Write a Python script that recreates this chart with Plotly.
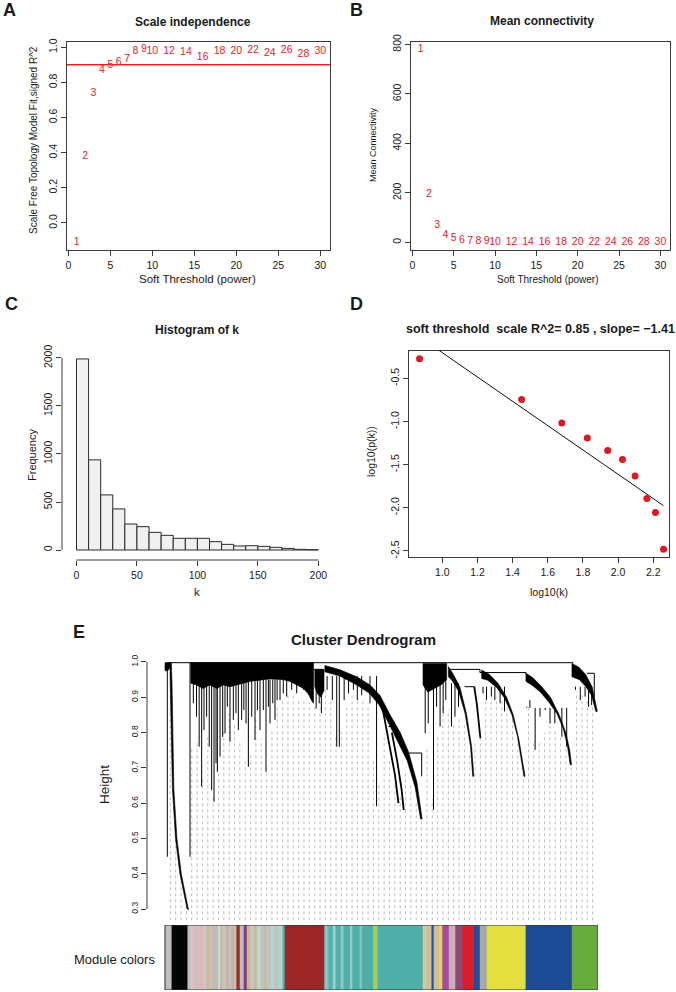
import numpy as np
import plotly.graph_objects as go

W, H = 676, 992
FONT = "Liberation Sans, Arial, sans-serif"
RED = "#e2242b"
AX = "#3a3a3a"
TXT = "#1a1a1a"

# ---------------- Panel A / B : soft-threshold scan ----------------
powers = [1, 2, 3, 4, 5, 6, 7, 8, 9, 10, 12, 14, 16, 18, 20, 22, 24, 26, 28, 30]
signed_r2 = [-0.11, 0.38, 0.74, 0.87, 0.895, 0.914, 0.933, 0.975, 0.987, 0.975,
             0.977, 0.971, 0.943, 0.977, 0.977, 0.985, 0.968, 0.985, 0.962, 0.975]
r2_cut = 0.90
mean_k = [779, 195, 68, 30, 16, 8, 5, 3, 2, 1.5, 1, 0.7, 0.5, 0.4, 0.3, 0.3, 0.2, 0.2, 0.2, 0.2]
a_xticks = [0, 5, 10, 15, 20, 25, 30]
a_yticks = [0.0, 0.2, 0.4, 0.6, 0.8, 1.0]
b_yticks = [0, 200, 400, 600, 800]

# ---------------- Panel C : histogram of k ----------------
k_breaks = list(range(0, 201, 10))
k_freq = [1990, 939, 574, 428, 271, 243, 184, 153, 122, 122,
          122, 87, 59, 42, 45, 38, 28, 17, 7, 3]
c_xticks = [0, 50, 100, 150, 200]
c_yticks = [0, 500, 1000, 1500, 2000]

# ---------------- Panel D : scale-free fit ----------------
log10_k = [0.870, 1.451, 1.680, 1.825, 1.941, 2.025, 2.097, 2.164, 2.213, 2.259]
log10_pk = [-0.269, -0.742, -1.015, -1.188, -1.335, -1.438, -1.631, -1.892, -2.054, -2.481]
fit_r2 = 0.85
fit_slope = -1.41
fit_intercept = 1.21
d_xticks = [1.0, 1.2, 1.4, 1.6, 1.8, 2.0, 2.2]
d_yticks = [-2.5, -2.0, -1.5, -1.0, -0.5]

# ---------------- Panel E : cluster dendrogram (x = leaf order, h = height) ----------------
e_yticks = [0.3, 0.4, 0.5, 0.6, 0.7, 0.8, 0.9, 1.0]

blob_L0_x = [0.0, 1.2, 1.2, 0.6, 0.0]
blob_L0_h = [0.998, 0.998, 0.985, 0.975, 0.975]
blob_black_x = [1.1, 1.45, 1.62, 1.77, 2.02, 2.72, 3.72, 5.35, 5.05, 3.4, 2.4, 1.7, 1.45, 1.3]
blob_black_h = [0.998, 0.998, 0.93, 0.83, 0.64, 0.50, 0.40, 0.298, 0.30, 0.40, 0.50, 0.64, 0.83, 0.93]
blob_A_x = [5.9, 33.9, 33.9, 33.5, 32.7, 31.6, 30.1, 28.5, 27.0, 25.5, 24.0, 22.5, 21.0,
            19.4, 17.9, 16.4, 14.8, 13.3, 11.8, 10.2, 8.7, 7.2, 5.9]
blob_A_h = [0.998, 0.998, 0.883, 0.89, 0.91, 0.925, 0.935, 0.945, 0.95, 0.952, 0.952, 0.95, 0.948,
            0.945, 0.94, 0.935, 0.93, 0.935, 0.925, 0.935, 0.925, 0.935, 0.94]
blob_A2_x = [34.2, 36.3, 36.3, 35.6, 34.8, 34.2]
blob_A2_h = [0.979, 0.979, 0.92, 0.90, 0.91, 0.93]
blob_T_x = [36.5, 39.95, 43.76, 46.8, 49.1, 51.4, 53.7, 55.6, 57.5, 58.7,
            58.35, 57.1, 55.3, 53.3, 51.1, 48.9, 46.6, 43.6, 39.9, 36.5]
blob_T_h = [0.99, 0.978, 0.958, 0.935, 0.905, 0.85, 0.80, 0.745, 0.66, 0.555,
            0.555, 0.645, 0.72, 0.772, 0.825, 0.878, 0.912, 0.936, 0.96, 0.972]
blob_B1_x = [58.9, 64.3, 64.3, 63.0, 61.5, 60.0, 58.9]
blob_B1_h = [0.996, 0.996, 0.95, 0.935, 0.925, 0.915, 0.935]
blob_B2_x = [64.7, 65.8, 67.3, 68.8, 70.0, 70.5, 70.25, 69.75, 68.5, 67.0, 65.5, 64.7]
blob_B2_h = [0.987, 0.965, 0.93, 0.855, 0.76, 0.676, 0.676, 0.76, 0.855, 0.918, 0.948, 0.958]
blob_B3_x = [72.3, 74.0, 76.0, 78.0, 79.5, 80.8, 81.6, 82.2, 81.95, 81.3, 80.45, 79.2, 77.5, 75.7, 73.7, 72.3]
blob_B3_h = [0.977, 0.965, 0.94, 0.90, 0.85, 0.78, 0.72, 0.676, 0.676, 0.73, 0.79, 0.85, 0.898, 0.928, 0.948, 0.953]
blob_B4_x = [82.4, 84.0, 86.0, 88.0, 90.0, 91.5, 92.4, 92.8, 92.5, 91.9, 90.95, 89.5, 87.7, 85.7, 83.7, 82.4]
blob_B4_h = [0.968, 0.955, 0.93, 0.90, 0.85, 0.80, 0.75, 0.709, 0.709, 0.76, 0.81, 0.853, 0.885, 0.915, 0.935, 0.945]
blob_B5_x = [92.9, 94.5, 96.0, 97.5, 98.7, 98.35, 97.4, 96.1, 94.6, 92.9]
blob_B5_h = [0.996, 0.985, 0.965, 0.93, 0.86, 0.86, 0.905, 0.93, 0.95, 0.958]

# single long branches (x, bottom height) hanging from a group top
stemL_x = [0.53, 5.71]
stemL_bot = [0.448, 0.448]
stemL_top = 0.998
stemA_x = [6.47, 7.2, 7.8, 8.37, 8.9, 9.5, 10.1, 10.65, 11.19, 11.65, 11.95, 12.56, 13.17, 13.7,
           14.23, 14.84, 15.6, 16.2, 16.74, 17.5, 18.0, 18.5, 19.03, 19.8, 20.55, 21.1, 21.69,
           22.45, 23.06, 23.6, 23.97, 24.6, 25.11, 25.6, 26.26, 27.0, 27.78, 28.92, 30.06, 31.58, 32.7]
stemA_bot = [0.883, 0.845, 0.760, 0.647, 0.807, 0.845, 0.760, 0.637, 0.604, 0.713, 0.689, 0.732,
             0.788, 0.798, 0.873, 0.774, 0.836, 0.855, 0.807, 0.836, 0.864, 0.826, 0.703, 0.845,
             0.779, 0.864, 0.807, 0.864, 0.689, 0.873, 0.826, 0.883, 0.836, 0.892, 0.892, 0.911,
             0.902, 0.921, 0.911, 0.921, 0.911]
stemA_top = 0.95
stemA2_x = [34.5, 35.2, 35.7]
stemA2_bot = [0.868, 0.883, 0.855]
stemA2_top = 0.93
stemT_x = [37.0, 38.2, 39.2, 39.8, 40.9, 41.9, 43.0, 43.9, 44.9, 46.8, 48.3]
stemT_bot = [0.921, 0.892, 0.760, 0.760, 0.892, 0.911, 0.921, 0.892, 0.906, 0.883, 0.591]
stemT_top = 0.96
stemB1_x = [59.4, 60.1, 61.3, 62.0, 62.8, 63.5, 64.1]
stemB1_bot = [0.798, 0.826, 0.581, 0.873, 0.817, 0.855, 0.892]
stemB1_top = 0.95
stemB2_x = [65.4, 66.2, 67.0]
stemB2_bot = [0.817, 0.845, 0.873]
stemB2_top = 0.94
stemB3_x = [72.6, 73.4, 74.5, 75.3, 76.5, 77.5]
stemB3_bot = [0.911, 0.892, 0.902, 0.892, 0.883, 0.86]
stemB3_top = 0.93
stemB4_x = [82.6, 83.3, 84.5, 85.6, 86.8, 87.9, 89.0, 90.6, 91.7]
stemB4_bot = [0.873, 0.892, 0.751, 0.845, 0.864, 0.826, 0.826, 0.788, 0.760]
stemB4_top = 0.87
stemB5_x = [93.7, 94.8, 95.9, 96.7, 97.4]
stemB5_bot = [0.921, 0.892, 0.902, 0.873, 0.878]
stemB5_top = 0.93

# thinner sub-branches (polylines)
branch_T1_x = [49.5, 51.0, 52.5, 53.3]
branch_T1_h = [0.88, 0.78, 0.68, 0.60]
branch_T2_x = [51.8, 53.0, 54.0, 54.5]
branch_T2_h = [0.80, 0.72, 0.64, 0.58]
branch_B2_x = [70.6, 71.2, 71.7, 72.0]
branch_B2_h = [0.93, 0.88, 0.82, 0.784]

# merge lines: horizontal segments (x0, x1, h) and vertical drops
merge_x0 = [0.5, 30.1, 65.1, 71.9, 96.3, 51.0, 55.6, 68.4]
merge_x1 = [93.2, 36.1, 71.9, 82.4, 98.0, 52.5, 58.6, 70.6]
merge_h = [0.998, 0.979, 0.979, 0.970, 0.968, 0.817, 0.742, 0.93]
drop_x = [71.9, 82.4, 58.6, 98.0]
drop_top = [0.979, 0.970, 0.742, 0.968]
drop_bot = [0.970, 0.966, 0.676, 0.90]

# leaf-height profile used to end the guide lines
leaf_x = [0.0, 0.5, 0.6, 1.2, 1.5, 1.9, 2.6, 3.6, 5.2, 5.5, 5.9, 6.2, 8.4, 9.5, 10.65, 11.2, 12.6,
          14.0, 15.6, 19.0, 21.0, 23.1, 25.0, 28.0, 33.9, 35.0, 36.3, 37.5, 39.5, 42.0, 46.8, 48.3,
          50.0, 53.3, 55.0, 58.6, 59.4, 61.3, 62.5, 64.3, 65.4, 68.0, 70.4, 71.2, 72.0, 73.0, 76.0,
          79.5, 82.2, 83.0, 84.5, 88.0, 91.7, 92.8, 93.5, 96.0, 98.85]
leaf_h = [0.975, 0.45, 0.45, 0.975, 0.93, 0.64, 0.50, 0.40, 0.30, 0.45, 0.45, 0.90, 0.65, 0.84,
          0.64, 0.60, 0.73, 0.87, 0.84, 0.70, 0.86, 0.69, 0.87, 0.91, 0.88, 0.88, 0.92, 0.92, 0.76,
          0.91, 0.88, 0.59, 0.80, 0.60, 0.70, 0.557, 0.80, 0.58, 0.85, 0.89, 0.82, 0.85, 0.676, 0.88,
          0.784, 0.90, 0.90, 0.85, 0.676, 0.88, 0.75, 0.83, 0.76, 0.709, 0.92, 0.90, 0.86]
guide_count = 80

# module colour strip: boundaries (leaf order) and colours
module_bounds = [0.0, 1.58, 5.22, 6.0, 6.6, 7.2, 7.88, 8.87, 9.6, 10.1, 10.9, 11.3, 12.2, 12.7, 13.2,
                 14.1, 14.5, 15.4, 15.8, 16.36, 17.15, 18.04, 18.73, 19.51, 20.5, 21.0, 21.9, 22.8,
                 23.2, 24.2, 25.0, 25.9, 26.91, 27.40, 36.47, 37.3, 38.4, 39.0, 40.2, 40.8, 42.3,
                 42.8, 44.5, 45.0, 47.6, 48.59, 58.94, 59.7, 60.2, 60.91, 61.40, 62.0, 62.7, 63.37,
                 64.85, 65.5, 66.33, 68.01, 70.47, 71.95, 73.53, 82.4, 92.94, 98.85]
module_hex = ["#bebebe", "#050505", "#c2c2c0", "#ecbcc2", "#c4c4c2", "#d6bcbe", "#e6b4bd",
              "#c8c8c0", "#d2b48c", "#c0c0bc", "#dcac96", "#bcbcb8", "#c0dcd8", "#cdb493",
              "#c4c4c0", "#d6a490", "#bfbfbb", "#c8b090", "#c0c0c0", "#a0302a", "#bdbdbd",
              "#7a3d8e", "#d4b483", "#c6c6c0", "#cdb38a", "#b8d8d4", "#c2c2be", "#d0b48c",
              "#bfc4c0", "#b4d6d2", "#c2c2c2", "#aed2cf", "#48b0a8", "#9e2528", "#86c8c2",
              "#55b3ac", "#9ccfc9", "#52b1aa", "#8ec9c3", "#50b0a9", "#98cdc7", "#4fb0a9",
              "#86c6c0", "#4eafa8", "#a7cf4f", "#4eafa9", "#d8c98c", "#bdbdbd", "#d6c27e",
              "#284f9e", "#bdbdbd", "#d4c27a", "#e2d64a", "#a54aa0", "#c0b0b8", "#d8a8b4",
              "#8a4a78", "#e01b24", "#1e4f9c", "#a8a8a8", "#e3df3d", "#1b4a96", "#67ac3d"]


# ---------------- helpers ----------------
def dx(a, b):
    return [a / W, b / W]


def dy(top, bottom):
    return [1 - bottom / H, 1 - top / H]


def ax(domain, rng, **kw):
    d = dict(domain=domain, range=rng, showgrid=False, zeroline=False, ticks="outside",
             ticklen=5, tickwidth=1, tickcolor=AX, linecolor=AX, linewidth=1, showline=True,
             mirror=True, tickfont=dict(family=FONT, size=10.5, color=TXT), automargin=False,
             fixedrange=True)
    d.update(kw)
    return d


fig = go.Figure()

# A
fig.add_trace(go.Scatter(x=powers, y=signed_r2, mode="text", text=[str(p) for p in powers],
                         textfont=dict(color=RED, size=10.5, family=FONT), cliponaxis=False,
                         xaxis="x", yaxis="y", hoverinfo="skip"))
# B
fig.add_trace(go.Scatter(x=powers, y=mean_k, mode="text", text=[str(p) for p in powers],
                         textfont=dict(color=RED, size=10.5, family=FONT), cliponaxis=False,
                         xaxis="x2", yaxis="y2", hoverinfo="skip"))
# C
mids = [(a + b) / 2 for a, b in zip(k_breaks[:-1], k_breaks[1:])]
widths = [b - a for a, b in zip(k_breaks[:-1], k_breaks[1:])]
fig.add_trace(go.Bar(x=mids, y=k_freq, width=widths, marker=dict(color="#f0f0f0",
                     line=dict(color="#2a2a2a", width=1)), xaxis="x3", yaxis="y3", hoverinfo="skip"))
# D
fit_x = [min(log10_k), max(log10_k)]
fit_y = [fit_intercept + fit_slope * v for v in fit_x]
fig.add_trace(go.Scatter(x=fit_x, y=fit_y, mode="lines", line=dict(color="#111", width=1),
                         xaxis="x4", yaxis="y4", hoverinfo="skip"))
fig.add_trace(go.Scatter(x=log10_k, y=log10_pk, mode="markers",
                         marker=dict(color="#dd1a22", size=7, line=dict(width=0)),
                         xaxis="x4", yaxis="y4", hoverinfo="skip", cliponaxis=False))

# E : guides
gx = np.linspace(module_bounds[0], module_bounds[-1], guide_count + 2)[1:-1]
gtop = np.interp(gx, leaf_x, leaf_h)
g_xs, g_ys = [], []
for xv, tv in zip(gx, gtop):
    g_xs += [xv, xv, None]
    g_ys += [0.2, tv, None]
fig.add_trace(go.Scatter(x=g_xs, y=g_ys, mode="lines",
                         line=dict(color="#bcbcbc", width=1, dash="dot"),
                         xaxis="x5", yaxis="y5", hoverinfo="skip"))

# E : stems
s_xs, s_ys = [], []
for xs, bots, top in [(stemL_x, stemL_bot, stemL_top), (stemA_x, stemA_bot, stemA_top),
                      (stemA2_x, stemA2_bot, stemA2_top), (stemT_x, stemT_bot, stemT_top),
                      (stemB1_x, stemB1_bot, stemB1_top), (stemB2_x, stemB2_bot, stemB2_top),
                      (stemB3_x, stemB3_bot, stemB3_top), (stemB4_x, stemB4_bot, stemB4_top),
                      (stemB5_x, stemB5_bot, stemB5_top)]:
    for xv, bv in zip(xs, bots):
        s_xs += [xv, xv, None]
        s_ys += [top, bv, None]
for xv, t, b in zip(drop_x, drop_top, drop_bot):
    s_xs += [xv, xv, None]
    s_ys += [t, b, None]
for a, b, hh in zip(merge_x0, merge_x1, merge_h):
    s_xs += [a, b, None]
    s_ys += [hh, hh, None]
fig.add_trace(go.Scatter(x=s_xs, y=s_ys, mode="lines", line=dict(color="#000", width=1),
                         xaxis="x5", yaxis="y5", hoverinfo="skip"))

for bx, bh in [(branch_T1_x, branch_T1_h), (branch_T2_x, branch_T2_h), (branch_B2_x, branch_B2_h)]:
    fig.add_trace(go.Scatter(x=bx, y=bh, mode="lines", line=dict(color="#000", width=1.8),
                             xaxis="x5", yaxis="y5", hoverinfo="skip"))

for px_, ph_ in [(blob_L0_x, blob_L0_h), (blob_black_x, blob_black_h), (blob_A_x, blob_A_h),
                 (blob_A2_x, blob_A2_h), (blob_T_x, blob_T_h), (blob_B1_x, blob_B1_h),
                 (blob_B2_x, blob_B2_h), (blob_B3_x, blob_B3_h), (blob_B4_x, blob_B4_h),
                 (blob_B5_x, blob_B5_h)]:
    fig.add_trace(go.Scatter(x=px_ + [px_[0]], y=ph_ + [ph_[0]], mode="lines", fill="toself",
                             fillcolor="#000", line=dict(color="#000", width=0.6),
                             xaxis="x5", yaxis="y5", hoverinfo="skip"))

# module colour strip
m_mid = [(a + b) / 2 for a, b in zip(module_bounds[:-1], module_bounds[1:])]
m_w = [b - a for a, b in zip(module_bounds[:-1], module_bounds[1:])]
fig.add_trace(go.Bar(x=m_mid, y=[1] * len(m_mid), width=m_w, base=0,
                     marker=dict(color=module_hex, line=dict(color=module_hex, width=0.6)),
                     xaxis="x6", yaxis="y6", hoverinfo="skip"))

E_RANGE = [-4.11, module_bounds[-1]]
fig.update_layout(
    width=W, height=H, margin=dict(l=0, r=0, t=0, b=0), template="none",
    paper_bgcolor="white", plot_bgcolor="white", showlegend=False,
    font=dict(family=FONT, color=TXT), bargap=0,
    xaxis=ax(dx(67, 330), [-0.16, 31.16], anchor="y", tickvals=a_xticks),
    yaxis=ax(dy(42, 250), [-0.154, 1.03], anchor="x", tickvals=a_yticks,
             ticktext=[f"{v:.1f}" for v in a_yticks], tickangle=-90),
    xaxis2=ax(dx(411, 670), [-0.16, 31.16], anchor="y2", tickvals=a_xticks),
    yaxis2=ax(dy(42, 250), [-31, 810], anchor="x2", tickvals=b_yticks, tickangle=-90),
    xaxis3=ax(dx(62, 328), [-12, 208], anchor="y3", tickvals=c_xticks, showline=False, mirror=False),
    yaxis3=ax(dy(350, 560), [-104, 2083], anchor="x3", tickvals=c_yticks, tickangle=-90,
              showline=False, mirror=False),
    xaxis4=ax(dx(409, 669), [0.81, 2.29], anchor="y4", tickvals=d_xticks,
              ticktext=[f"{v:.1f}" for v in d_xticks]),
    yaxis4=ax(dy(351, 557), [-2.57, -0.18], anchor="x4", tickvals=d_yticks,
              ticktext=[f"{v:.1f}" for v in d_yticks], tickangle=-90),
    xaxis5=ax(dx(147, 598), E_RANGE, anchor="y5", visible=False),
    yaxis5=ax(dy(655, 921), [0.266, 1.0198], anchor="x5", tickvals=e_yticks,
              ticktext=[f"{v:.1f}" for v in e_yticks], tickangle=-90, showline=False,
              mirror=False, tickfont=dict(family=FONT, size=8.5, color=TXT)),
    xaxis6=ax(dx(147, 598), E_RANGE, anchor="y6", visible=False),
    yaxis6=ax(dy(925, 990), [0, 1], anchor="x6", visible=False),
)

shapes = [
    dict(type="line", xref="x domain", x0=0, x1=1, yref="y", y0=r2_cut, y1=r2_cut,
         line=dict(color=RED, width=1.5)),
    dict(type="line", xref="x3", x0=c_xticks[0], x1=c_xticks[-1], yref="y3 domain", y0=0, y1=0,
         line=dict(color=AX, width=1)),
    dict(type="line", xref="x3 domain", x0=0, x1=0, yref="y3", y0=c_yticks[0], y1=c_yticks[-1],
         line=dict(color=AX, width=1)),
    dict(type="line", xref="x5 domain", x0=0, x1=0, yref="y5", y0=e_yticks[0], y1=e_yticks[-1],
         line=dict(color=AX, width=1)),
    dict(type="rect", xref="x6", x0=module_bounds[0], x1=module_bounds[-1], yref="y6", y0=0, y1=1,
         line=dict(color="#333", width=1)),
]
fig.update_layout(shapes=shapes)


def ann(text, x, y, size, bold=False, angle=0, xanchor="center", color=TXT):
    return dict(text=f"<b>{text}</b>" if bold else text, x=x / W, y=1 - y / H, xref="paper",
                yref="paper", showarrow=False, textangle=angle, xanchor=xanchor,
                yanchor="middle", font=dict(family=FONT, size=size, color=color))


title_d = ("soft threshold\u00a0\u00a0scale R^2= " + f"{fit_r2:.2f}" + " , slope= "
           + f"{fit_slope:.2f}".replace("-", "\u2212"))
annotations = [
    ann("A", 9, 10, 18, bold=True), ann("B", 356, 10, 18, bold=True),
    ann("C", 11, 304, 18, bold=True), ann("D", 356, 304, 18, bold=True),
    ann("E", 79, 632, 18, bold=True),
    ann("Scale independence", 193, 22, 12, bold=True),
    ann("Mean connectivity", 542, 21, 12, bold=True),
    ann("Histogram of k", 197, 330, 12, bold=True),
    ann(title_d, 540, 329, 12.5, bold=True),
    ann("Cluster Dendrogram", 363, 639, 15, bold=True),
    ann("Scale Free Topology Model Fit,signed R^2", 33, 140, 10, angle=-90),
    ann("Soft Threshold (power)", 197, 279, 11.5),
    ann("Mean Connectivity", 373, 145, 9, angle=-90),
    ann("Soft Threshold (power)", 548, 279, 10),
    ann("Frequency", 32, 455, 11, angle=-90),
    ann("k", 197, 592, 11.5),
    ann("log10(p(k))", 371, 452, 10.5, angle=-90),
    ann("log10(k)", 549, 592, 10.5),
    ann("Height", 104, 785, 13.5, angle=-90),
    ann("Module colors", 157, 959, 13, xanchor="right"),
]
fig.update_layout(annotations=annotations)

fig.write_html("out.html", config={"displayModeBar": False, "staticPlot": True},
               post_script="document.body.style.margin='0';"
                           "document.documentElement.style.overflow='hidden';"
                           "document.body.style.overflow='hidden';")
